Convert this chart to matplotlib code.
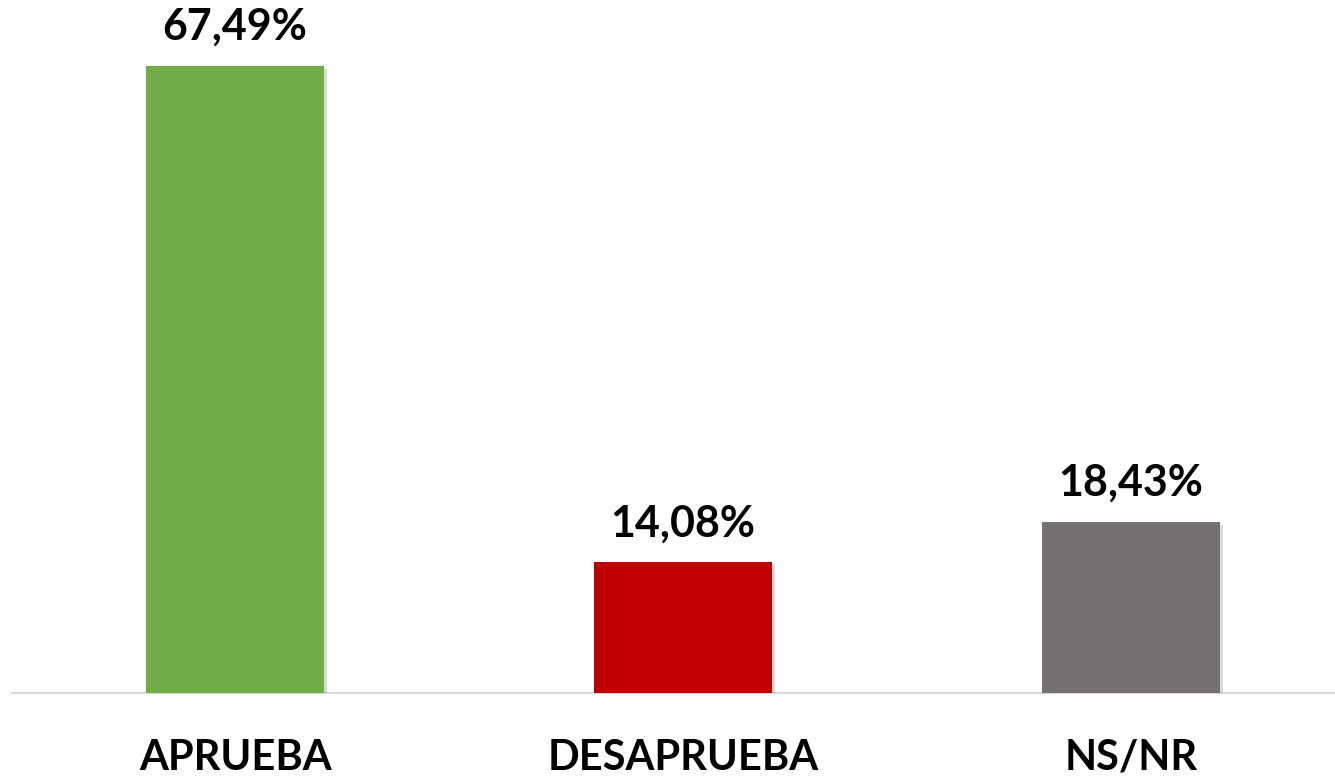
import matplotlib
matplotlib.use("Agg")
import matplotlib.pyplot as plt
import matplotlib.patheffects as pe

categories = ["APRUEBA", "DESAPRUEBA", "NS/NR"]
values = [67.49, 14.08, 18.43]
value_labels = ["67,49%", "14,08%", "18,43%"]
colors = ["#70AD47", "#C00000", "#767171"]

W, H = 1335, 776
fig = plt.figure(figsize=(W / 100, H / 100), dpi=100)
ax = fig.add_axes([12 / W, (H - 693) / H, (W - 12) / W, 693 / H])

x = list(range(len(categories)))
bars = ax.bar(x, values, width=0.397, color=colors, zorder=3)
for b in bars:
    b.set_path_effects([pe.SimplePatchShadow(offset=(2, -2), shadow_rgbFace="#000000", alpha=0.15), pe.Normal()])

ax.set_xlim(-0.498, 2.455)
ax.set_ylim(0, 74.6)

for xi, v, lab in zip(x, values, value_labels):
    ax.annotate(lab, (xi, v), xytext=(0, 19), textcoords="offset pixels",
                ha="center", va="bottom", fontsize=31, fontweight="bold",
                family=["Lato", "DejaVu Sans"], color="#000000")

ax.set_xticks(x)
ax.set_xticklabels(categories, fontsize=30, fontweight="bold", family=["Lato", "DejaVu Sans"])
ax.tick_params(axis="x", length=0, pad=33)
ax.set_yticks([])
for s in ["top", "right", "left"]:
    ax.spines[s].set_visible(False)
ax.spines["bottom"].set_color("#D9D9D9")
ax.spines["bottom"].set_linewidth(1.5)

fig.savefig("out.png", dpi=100)
